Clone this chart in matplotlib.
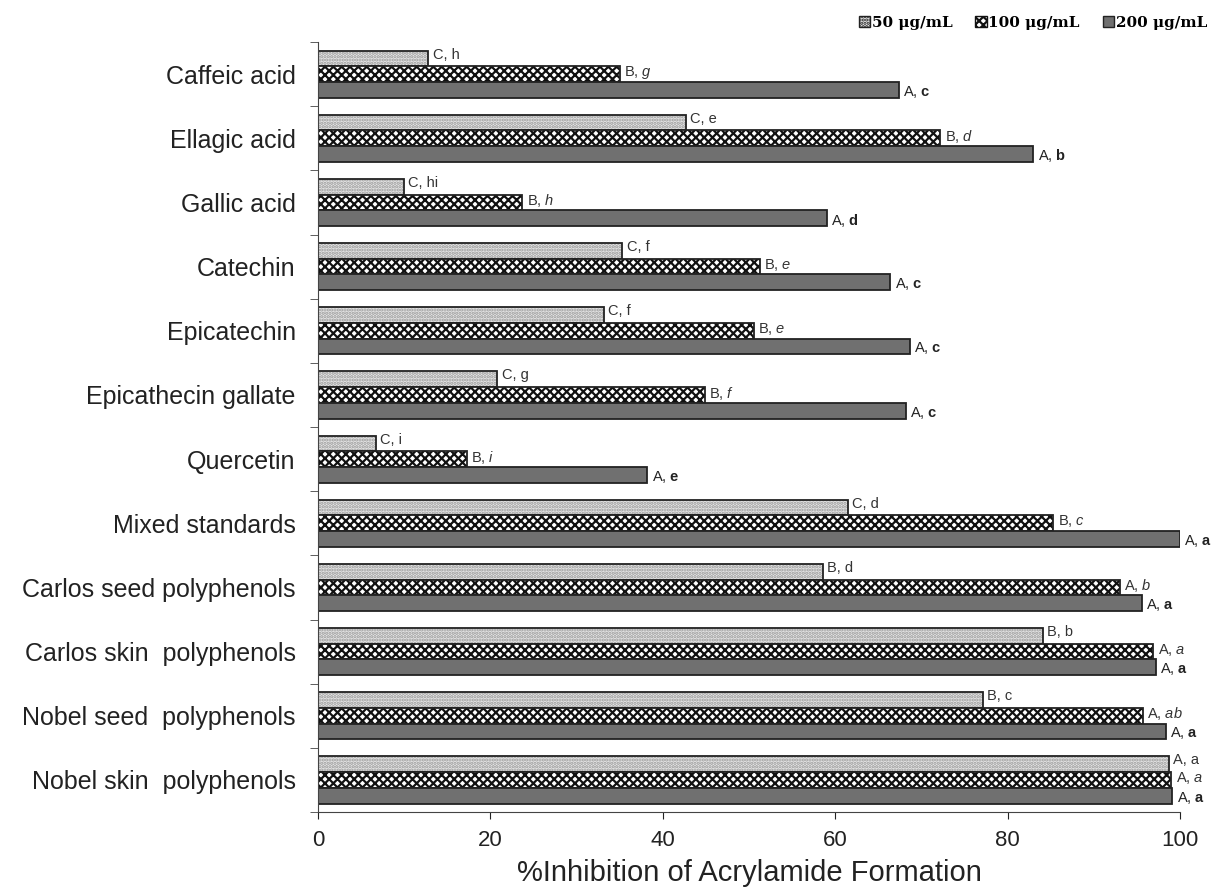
import matplotlib
matplotlib.use("Agg")
import matplotlib.pyplot as plt
from matplotlib.patches import Patch
import numpy as np

plt.rcParams['font.family'] = ['Liberation Sans', 'DejaVu Sans']
plt.rcParams['mathtext.fontset'] = 'custom'
plt.rcParams['mathtext.rm'] = 'Liberation Sans'
plt.rcParams['mathtext.it'] = 'Liberation Sans:italic'
plt.rcParams['mathtext.bf'] = 'Liberation Sans:bold'
plt.rcParams['hatch.linewidth'] = 1.6

categories = ["Caffeic acid", "Ellagic acid", "Gallic acid", "Catechin", "Epicatechin",
              "Epicathecin gallate", "Quercetin", "Mixed standards", "Carlos seed polyphenols",
              "Carlos skin  polyphenols", "Nobel seed  polyphenols", "Nobel skin  polyphenols"]
series_names = ["50 μg/mL", "100 μg/mL", "200 μg/mL"]

v50 = [12.8, 42.7, 10.0, 35.3, 33.2, 20.8, 6.7, 61.5, 58.6, 84.1, 77.1, 98.7]
v100 = [35.0, 72.2, 23.7, 51.3, 50.6, 44.9, 17.3, 85.3, 93.0, 96.9, 95.7, 99.0]
v200 = [67.4, 83.0, 59.0, 66.4, 68.7, 68.2, 38.2, 100.0, 95.6, 97.2, 98.4, 99.1]

# letters: (upper-case between doses, lower-case between compounds)
lab50 = [("C", "h"), ("C", "e"), ("C", "hi"), ("C", "f"), ("C", "f"), ("C", "g"), ("C", "i"),
         ("C", "d"), ("B", "d"), ("B", "b"), ("B", "c"), ("A", "a")]
lab100 = [("B", "g"), ("B", "d"), ("B", "h"), ("B", "e"), ("B", "e"), ("B", "f"), ("B", "i"),
          ("B", "c"), ("A", "b"), ("A", "a"), ("A", "ab"), ("A", "a")]
lab200 = [("A", "c"), ("A", "b"), ("A", "d"), ("A", "c"), ("A", "c"), ("A", "c"), ("A", "e"),
          ("A", "a"), ("A", "a"), ("A", "a"), ("A", "a"), ("A", "a")]

fig = plt.figure(figsize=(12.21, 8.9), dpi=100)
ax = fig.add_axes([0.2604, 0.0876, 0.7060, 0.8652])

y = np.arange(len(categories))
h = 0.245

# 50: light dotted
ax.barh(y - h, v50, height=h, color='#e6e6e6', edgecolor='#9a9a9a', hatch='.....', linewidth=0)
ax.barh(y - h, v50, height=h, fill=False, edgecolor='#222222', linewidth=1.3)
# 100: checkerboard
ax.barh(y, v100, height=h, color='white', edgecolor='#111111', hatch='xxxx', linewidth=0)
ax.barh(y, v100, height=h, fill=False, edgecolor='#222222', linewidth=1.3)
# 200: solid gray
ax.barh(y + h, v200, height=h, color='#707070', edgecolor='#222222', linewidth=1.3)

for i in range(len(categories)):
    ax.text(v50[i] + 0.5, y[i] - h - 0.06, f"{lab50[i][0]}, {lab50[i][1]}",
            fontsize=10.5, color='#333333', va='center', ha='left')
    ax.text(v100[i] + 0.5, y[i] - 0.03, f"{lab100[i][0]}, " + r"$\mathit{" + lab100[i][1] + "}$",
            fontsize=10.5, color='#333333', va='center', ha='left')
    ax.text(v200[i] + 0.5, y[i] + h + 0.03, f"{lab200[i][0]}, " + r"$\mathbf{" + lab200[i][1] + "}$",
            fontsize=10.5, color='#222222', va='center', ha='left')

ax.set_xlim(0, 100)
ax.set_ylim(len(categories) - 0.5, -0.5)
ax.set_xticks(np.arange(0, 101, 20))
ax.tick_params(axis='x', labelsize=16, length=5, direction='out', pad=8, colors='#222222')
ax.set_yticks(y)
ax.set_yticklabels(categories, fontsize=18, color='#222222')
ax.tick_params(axis='y', length=0, pad=16)
ax.set_yticks(np.arange(-0.5, len(categories), 1), minor=True)
ax.tick_params(axis='y', which='minor', length=6, direction='out', color='#444444')

for s in ['top', 'right']:
    ax.spines[s].set_visible(False)
ax.spines['left'].set_color('#444444')
ax.spines['bottom'].set_color('#444444')

ax.set_xlabel("%Inhibition of Acrylamide Formation", fontsize=21, color='#222222', labelpad=6)

handles = [
    Patch(facecolor='#e6e6e6', edgecolor='#222222', hatch='.....'),
    Patch(facecolor='white', edgecolor='#111111', hatch='xxxx'),
    Patch(facecolor='#707070', edgecolor='#222222'),
]
fig.legend(handles, series_names, loc='upper right', bbox_to_anchor=(1.0, 0.998), ncol=3,
           frameon=False, handlelength=0.75, handleheight=0.75, handletextpad=0.1,
           columnspacing=1.5, prop={'family': ['DejaVu Serif'], 'size': 11, 'weight': 'bold'})

fig.savefig("out.png", dpi=100)
